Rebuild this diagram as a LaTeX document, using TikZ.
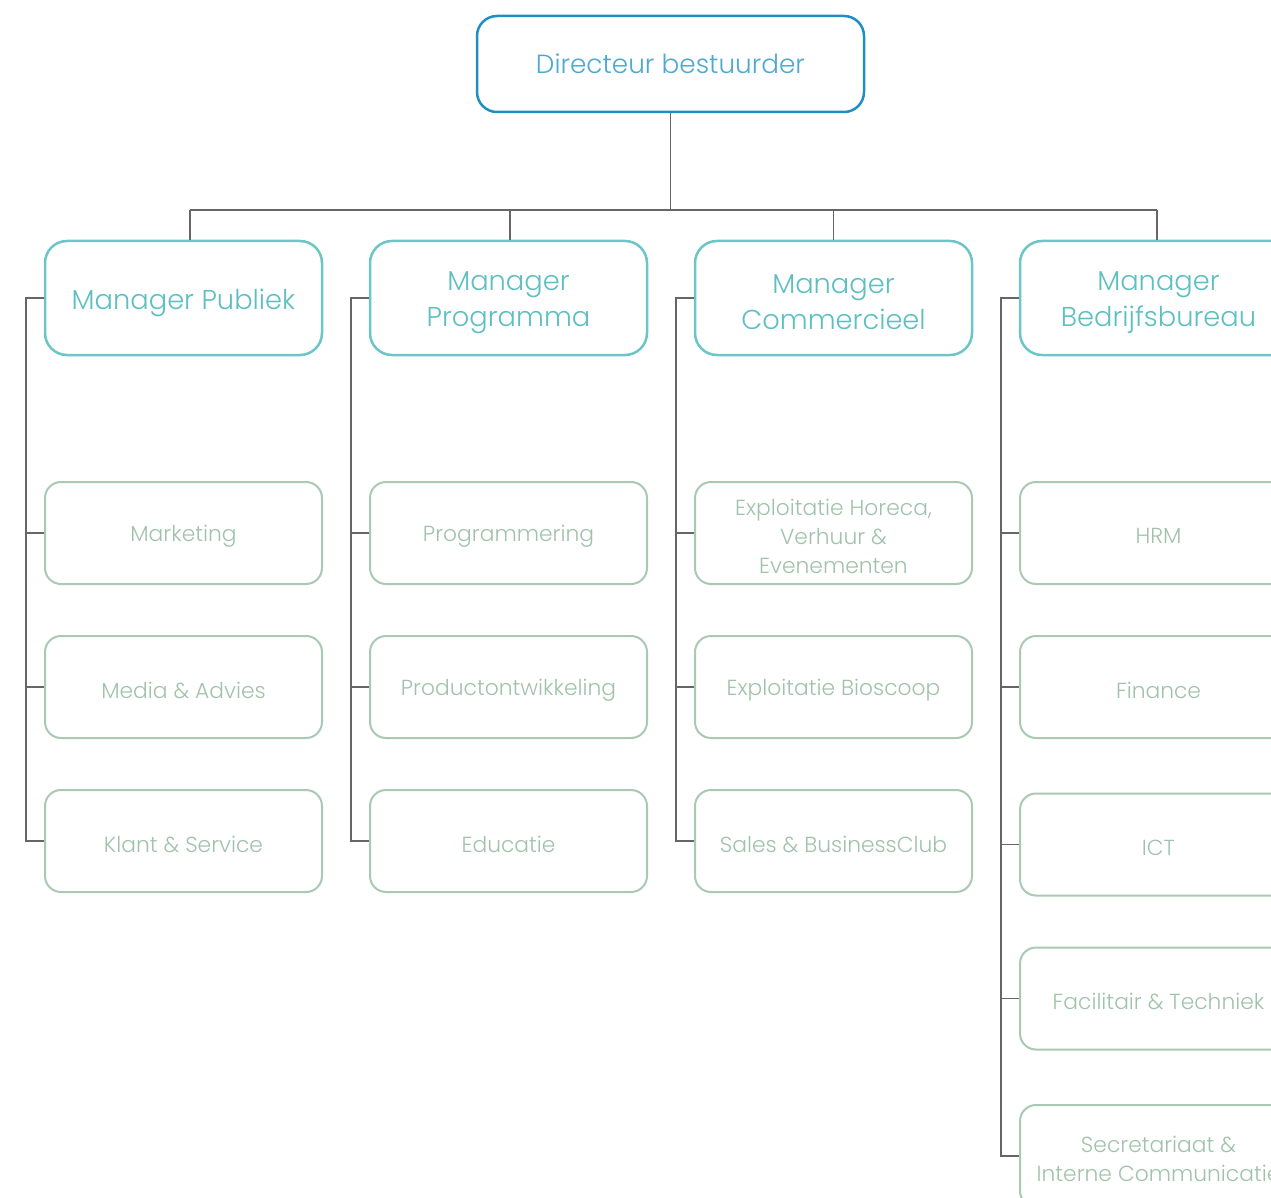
\documentclass[tikz,border=0pt]{standalone}
\usepackage{fontspec}
\setmainfont{Poppins}[UprightFont={* Light}]
\definecolor{dirblue}{HTML}{1E8FC0}
\definecolor{dirtext}{HTML}{4CA9D3}
\definecolor{mgrline}{HTML}{6CC5C6}
\definecolor{mgrtext}{HTML}{5DBFC1}
\definecolor{subline}{HTML}{A9C9B2}
\definecolor{subtext}{HTML}{A0C2AA}
\definecolor{conn}{HTML}{666666}
\begin{document}
\begin{tikzpicture}[x=1pt,y=-1pt,
 dirbox/.style={draw=dirblue, line width=2.5pt, rounded corners=20pt, minimum width=387pt, minimum height=96pt, text=dirtext, font=\fontsize{26.3}{32}\selectfont, inner sep=0pt},
 mgrbox/.style={draw=mgrline, line width=2.5pt, rounded corners=22pt, minimum width=277pt, minimum height=114pt, inner sep=0pt},
 mgrlab/.style={text=mgrtext, font=\fontsize{27.3}{36}\selectfont, align=center, inner sep=0pt, yshift=-4.5pt},
 subbox/.style={draw=subline, line width=2pt, rounded corners=16pt, minimum width=277pt, minimum height=102pt, inner sep=0pt},
 sublab/.style={text=subtext, font=\fontsize{21.8}{29}\selectfont, align=center, inner sep=0pt, yshift=-3pt},
 link/.style={draw=conn, line width=1.6pt}]
\useasboundingbox (0,0) rectangle (1271,1198);
\clip (0,0) rectangle (1271,1198);
\node[dirbox] (dir) at (670.5,64) {Directeur bestuurder};
\node[mgrbox, label={[mgrlab]center:Manager Publiek}] (m1) at (183.5,298) {};
\node[mgrbox, label={[mgrlab]center:Manager\\Programma}] (m2) at (508.5,298) {};
\node[mgrbox, label={[mgrlab]center:Manager\\Commercieel}] (m3) at (833.5,298) {};
\node[mgrbox, label={[mgrlab]center:Manager\\Bedrijfsbureau}] (m4) at (1158.5,298) {};
\node[subbox, label={[sublab]center:Marketing}] (s11) at (183.5,533) {};
\node[subbox, label={[sublab]center:Media \& Advies}] (s12) at (183.5,687) {};
\node[subbox, label={[sublab]center:Klant \& Service}] (s13) at (183.5,841) {};
\node[subbox, label={[sublab]center:Programmering}] (s21) at (508.5,533) {};
\node[subbox, label={[sublab]center:Productontwikkeling}] (s22) at (508.5,687) {};
\node[subbox, label={[sublab]center:Educatie}] (s23) at (508.5,841) {};
\node[subbox, label={[sublab]center:{Exploitatie Horeca,\\Verhuur \&\\Evenementen}}] (s31) at (833.5,533) {};
\node[subbox, label={[sublab]center:Exploitatie Bioscoop}] (s32) at (833.5,687) {};
\node[subbox, label={[sublab]center:Sales \& BusinessClub}] (s33) at (833.5,841) {};
\node[subbox, label={[sublab]center:HRM}] (s41) at (1158.5,533) {};
\node[subbox, label={[sublab]center:Finance}] (s42) at (1158.5,687) {};
\node[subbox, label={[sublab]center:ICT}] (s43) at (1158.5,844.5) {};
\node[subbox, label={[sublab]center:Facilitair \& Techniek}] (s44) at (1158.5,998.5) {};
\node[subbox, label={[sublab]center:Secretariaat \&\\Interne Communicatie}] (s45) at (1158.5,1156) {};
\coordinate (hub) at (670.5,210);
\draw[link] (dir.south) -- (hub);
\draw[link] ([xshift=6.5pt]m1.north |- hub) -- ([xshift=-1.5pt]m4.north |- hub);
\draw[link] ([xshift=6.5pt]m1.north) -- ([xshift=6.5pt]m1.north |- hub);
\draw[link] ([xshift=1.5pt]m2.north) -- ([xshift=1.5pt]m2.north |- hub);
\draw[link] (m3.north) -- (m3.north |- hub);
\draw[link] ([xshift=-1.5pt]m4.north) -- ([xshift=-1.5pt]m4.north |- hub);
\draw[link] (m1.west) -- ++(-18,0) coordinate (b1) |- (s13.west);
\draw[link] (m2.west) -- ++(-18,0) coordinate (b2) |- (s23.west);
\draw[link] (m3.west) -- ++(-18,0) coordinate (b3) |- (s33.west);
\draw[link] (m4.west) -- ++(-18,0) coordinate (b4) |- (s45.west);
\foreach \s in {s11,s12}{\draw[link] (\s.west) -- (\s.west -| b1);}
\foreach \s in {s21,s22}{\draw[link] (\s.west) -- (\s.west -| b2);}
\foreach \s in {s31,s32}{\draw[link] (\s.west) -- (\s.west -| b3);}
\foreach \s in {s41,s42,s43,s44}{\draw[link] (\s.west) -- (\s.west -| b4);}
\end{tikzpicture}
\end{document}
